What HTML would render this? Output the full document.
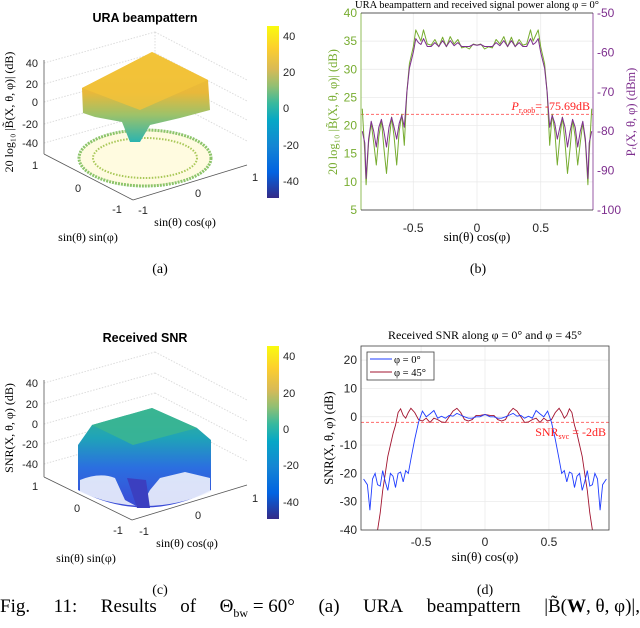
<!DOCTYPE html>
<html><head><meta charset="utf-8"><style>
html,body{margin:0;padding:0;background:#fff;}
body{width:640px;height:623px;overflow:hidden;position:relative;font-family:"Liberation Sans",sans-serif;}
svg text{font-family:"Liberation Sans",sans-serif;}
.serif{font-family:"Liberation Serif",serif;}
#caption{position:absolute;left:0;top:596px;width:640px;font-family:"Liberation Serif",serif;font-size:19px;display:flex;justify-content:space-between;white-space:nowrap;}
#caption span{display:inline-block;}
</style></head><body>
<svg id="fig" width="640" height="623" xmlns="http://www.w3.org/2000/svg">
<defs>
<linearGradient id="parula" x1="0" y1="1" x2="0" y2="0">
<stop offset="0" stop-color="#352a87"/><stop offset="0.15" stop-color="#0363e1"/><stop offset="0.3" stop-color="#1485d4"/><stop offset="0.45" stop-color="#06a7c6"/><stop offset="0.55" stop-color="#38b99e"/><stop offset="0.65" stop-color="#92bf73"/><stop offset="0.75" stop-color="#d9ba56"/><stop offset="0.87" stop-color="#fcce2e"/><stop offset="1" stop-color="#f9fb0e"/>
</linearGradient>
<linearGradient id="surfA" x1="0" y1="0" x2="0" y2="1">
<stop offset="0" stop-color="#f3c632"/><stop offset="0.45" stop-color="#e9b83a"/><stop offset="0.7" stop-color="#9cc26a"/><stop offset="1" stop-color="#2bb4b0"/>
</linearGradient>
<linearGradient id="surfC" x1="0" y1="0" x2="0" y2="1">
<stop offset="0" stop-color="#39b58f"/><stop offset="0.3" stop-color="#1fa3b8"/><stop offset="0.6" stop-color="#2b6fe0"/><stop offset="1" stop-color="#3b49d6"/>
</linearGradient>
<clipPath id="clipB"><rect x="361" y="13" width="232" height="197"/></clipPath>
<clipPath id="clipD"><rect x="361" y="346" width="248" height="184"/></clipPath>
</defs>

<!-- Panel A -->
<g>
<text x="145" y="22" text-anchor="middle" font-size="12.5" font-weight="bold">URA beampattern</text>
<g stroke="#dcdcdc" stroke-dasharray="1.5,1.5" fill="none">
<line x1="44" y1="63" x2="155" y2="32"/><line x1="44" y1="84" x2="155" y2="53"/><line x1="44" y1="102" x2="155" y2="72"/><line x1="44" y1="124" x2="155" y2="93"/><line x1="44" y1="143" x2="155" y2="112"/>
<line x1="155" y1="32" x2="247" y2="80"/><line x1="155" y1="53" x2="247" y2="101"/><line x1="155" y1="72" x2="247" y2="120"/><line x1="155" y1="93" x2="247" y2="141"/><line x1="155" y1="32" x2="155" y2="120"/>
</g>
<g stroke="#555" stroke-width="0.8" fill="none">
<line x1="44" y1="60" x2="44" y2="154"/><line x1="44" y1="154" x2="133" y2="200"/><line x1="133" y1="200" x2="247" y2="165"/>
</g>
<g font-size="11" fill="#262626" text-anchor="end">
<text x="38" y="67">40</text><text x="38" y="88">20</text><text x="38" y="106">0</text><text x="38" y="128">-20</text><text x="38" y="147">-40</text>
</g>
<g font-size="11" fill="#262626" text-anchor="middle">
<text x="35" y="169">1</text><text x="78" y="192">0</text><text x="117" y="213">-1</text><text x="143" y="214">-1</text><text x="198" y="197">0</text><text x="255" y="181">1</text>
</g>
<text class="serif" x="185" y="226" text-anchor="middle" font-size="12">sin(θ) cos(φ)</text>
<text class="serif" x="88" y="241" text-anchor="middle" font-size="12">sin(θ) sin(φ)</text>
<text class="serif" transform="translate(13,112) rotate(-90)" text-anchor="middle" font-size="12">20 log₁₀ |B̃(X, θ, φ)| (dB)</text>
<ellipse cx="145" cy="158" rx="66" ry="28" fill="#fffbe0" stroke="#8cc46a" stroke-width="3" stroke-dasharray="2,1"/>
<ellipse cx="145" cy="158" rx="52" ry="20" fill="none" stroke="#a9c858" stroke-width="2" stroke-dasharray="1.5,1.5"/>
<path d="M82,88 L152,52 L208,80 L210,110 L180,118 L150,125 L140,142 L130,142 L122,122 L95,117 L83,113 Z" fill="url(#surfA)"/>
<path d="M82,88 L152,52 L208,80 L140,110 Z" fill="#f2c33a" opacity="0.8"/>
<rect x="267" y="26" width="12" height="172" fill="url(#parula)"/>
<g font-size="11" fill="#262626">
<text x="283" y="40">40</text><text x="283" y="76">20</text><text x="283" y="112">0</text><text x="283" y="149">-20</text><text x="283" y="185">-40</text>
</g>
<text class="serif" x="160" y="273" text-anchor="middle" font-size="14">(a)</text>
</g>

<!-- Panel C -->
<g>
<text x="145" y="342" text-anchor="middle" font-size="12.5" font-weight="bold">Received SNR</text>
<g stroke="#dcdcdc" stroke-dasharray="1.5,1.5" fill="none">
<line x1="44" y1="383" x2="155" y2="352"/><line x1="44" y1="404" x2="155" y2="373"/><line x1="44" y1="424" x2="155" y2="393"/><line x1="44" y1="444" x2="155" y2="413"/><line x1="44" y1="464" x2="155" y2="433"/>
<line x1="155" y1="352" x2="247" y2="400"/><line x1="155" y1="373" x2="247" y2="421"/><line x1="155" y1="393" x2="247" y2="441"/><line x1="155" y1="413" x2="247" y2="461"/>
</g>
<g stroke="#555" stroke-width="0.8" fill="none">
<line x1="44" y1="380" x2="44" y2="477"/><line x1="44" y1="477" x2="132" y2="520"/><line x1="132" y1="520" x2="247" y2="485"/>
</g>
<g font-size="11" fill="#262626" text-anchor="end">
<text x="38" y="387">40</text><text x="38" y="408">20</text><text x="38" y="428">0</text><text x="38" y="448">-20</text><text x="38" y="468">-40</text>
</g>
<g font-size="11" fill="#262626" text-anchor="middle">
<text x="35" y="490">1</text><text x="77" y="512">0</text><text x="118" y="534">-1</text><text x="144" y="535">-1</text><text x="198" y="519">0</text><text x="255" y="502">1</text>
</g>
<text class="serif" x="187" y="547" text-anchor="middle" font-size="12">sin(θ) cos(φ)</text>
<text class="serif" x="86" y="562" text-anchor="middle" font-size="12">sin(θ) sin(φ)</text>
<text class="serif" transform="translate(13,428) rotate(-90)" text-anchor="middle" font-size="12">SNR(X, θ, φ) (dB)</text>
<path d="M78,445 L92,425 L152,408 L197,428 L211,440 L211,490 Q145,525 78,490 Z" fill="url(#surfC)"/>
<path d="M92,425 L152,408 L197,428 L133,445 Z" fill="#3ab592" opacity="0.9"/>
<path d="M80,480 Q100,472 115,478 L125,500 L140,508 L150,490 L160,478 L185,472 L210,478 L210,492 Q145,520 80,492 Z" fill="#eef2fc" opacity="0.9"/>
<path d="M127,478 L137,508 L150,508 L146,480 Z" fill="#3b3fc0"/>
<rect x="267" y="346" width="12" height="173" fill="url(#parula)"/>
<g font-size="11" fill="#262626">
<text x="283" y="360">40</text><text x="283" y="397">20</text><text x="283" y="433">0</text><text x="283" y="469">-20</text><text x="283" y="506">-40</text>
</g>
<text class="serif" x="160" y="594" text-anchor="middle" font-size="14">(c)</text>
</g>

<g id="panelB"></g>
<g id="panelD"></g>
</svg>
<div id="caption"><span>Fig.</span><span>11:</span><span>Results</span><span>of</span><span>Θ<sub style="font-size:12px">bw</sub> = 60°</span><span>(a)</span><span>URA</span><span>beampattern</span><span>|B̃(<b>W</b>, θ, φ)|,</span></div>

<script>
// ---- Panel B data ----
const bX = [-0.9,-0.88,-0.87,-0.85,-0.83,-0.81,-0.79,-0.77,-0.75,-0.73,-0.71,-0.69,-0.67,-0.65,-0.63,-0.61,-0.59,-0.57,-0.55,-0.53,-0.5,-0.48,-0.46,-0.44,-0.42,-0.39,-0.36,-0.33,-0.3,-0.27,-0.24,-0.21,-0.18,-0.15,-0.12,-0.09,-0.06,-0.03,0,
0.03,0.06,0.09,0.12,0.15,0.18,0.21,0.24,0.27,0.3,0.33,0.36,0.39,0.42,0.44,0.46,0.48,0.5,0.53,0.55,0.57,0.59,0.61,0.63,0.65,0.67,0.69,0.71,0.73,0.75,0.77,0.79,0.81,0.83,0.85,0.87,0.88,0.9];
const bBeamDb = [23,15,9.5,17,20.5,17,13,18,21,16,11.5,17,21.5,18,13,19,22,16.5,26,31,34,37,36,35,37,34.5,34.3,35.3,34,35.7,34,35.8,34.5,35.3,33.8,34,33.6,34.5,34.3,
34.5,33.6,34,33.8,35.3,34.5,35.8,34,35.7,34,35.3,34.3,34.5,37,35,36,37,34,31,26,16.5,22,19,13,18,21.5,17,11.5,16,21,18,13,17,20.5,17,9.5,15,23];
const bPowerDbm = [-80,-83,-92,-82,-77.5,-80,-84,-79,-77,-80,-84,-79,-76.5,-79,-82,-78,-76,-79,-70,-64,-60,-56.5,-57.5,-58,-56.5,-58.5,-58.5,-57.5,-58.5,-57,-58.5,-57,-58.3,-57.5,-58.5,-58.5,-58.5,-58,-58.2,
-58,-58.5,-58.5,-58.5,-57.5,-58.3,-57,-58.5,-57,-58.5,-57.5,-58.5,-58.5,-56.5,-58,-57.5,-56.5,-60,-64,-70,-79,-76,-78,-82,-79,-76.5,-79,-84,-80,-77,-79,-84,-80,-77.5,-82,-92,-83,-80];
const bLeftTicks = [5,10,15,20,25,30,35,40];
const bRightTicks = [-100,-90,-80,-70,-60,-50];
const bXTicks = [-0.5,0,0.5];
const bThresholdDb = 22;

// ---- Panel D data ----
const dX = [-0.95,-0.92,-0.9,-0.88,-0.86,-0.84,-0.82,-0.8,-0.78,-0.76,-0.74,-0.72,-0.7,-0.68,-0.66,-0.64,-0.62,-0.6,-0.58,-0.55,-0.52,-0.49,-0.46,-0.43,-0.4,-0.37,-0.34,-0.31,-0.28,-0.25,-0.22,-0.19,-0.16,-0.13,-0.1,-0.07,-0.04,0,
0.04,0.07,0.1,0.13,0.16,0.19,0.22,0.25,0.28,0.31,0.34,0.37,0.4,0.43,0.46,0.49,0.52,0.55,0.58,0.6,0.62,0.64,0.66,0.68,0.7,0.72,0.74,0.76,0.78,0.8,0.82,0.84,0.86,0.88,0.9,0.92,0.95];
const dSnrPhi0 = [-22,-24,-33,-22,-20,-24,-24.5,-19,-23,-26,-20,-21,-25,-20,-19.5,-23,-19,-20,-15,-8,-2,2,0,1,2.2,-0.5,0.2,-0.5,0.5,0.2,1.2,0.6,0,-0.5,-0.5,0,0,0.8,
0,0,-0.5,-0.5,0,0.6,1.2,0.2,0.5,-0.5,0.2,-0.5,2.2,1,0,2,-2,-8,-15,-20,-19,-23,-19.5,-20,-25,-21,-20,-26,-23,-19,-24.5,-24,-20,-22,-33,-24,-22];
const dSnrPhi45 = [-60,-55,-50,-44,-40.5,-40,-34,-26,-20,-14,-10,-6,-3,1.5,2.8,0.5,-0.5,1.5,3,1.5,-1,-1.5,-0.5,-2,-0.5,-1,-1.8,-2,0,2,3,1.5,-1,-1.5,-1,0.5,0.5,0.8,
0.5,0.5,-1,-1.5,-1,1.5,3,2,0,-2,-1.8,-1,-0.5,-2,-0.5,-1.5,-1,1.5,3,1.5,-0.5,0.5,2.8,1.5,-3,-6,-10,-14,-20,-26,-34,-40,-40.5,-44,-50,-55,-60];
const dYTicks = [-40,-30,-20,-10,0,10,20];
const dXTicks = [-0.5,0,0.5];
const dThreshold = -2;

const NS = "http://www.w3.org/2000/svg";
function mk(parent, tag, attrs, text){
  const e = document.createElementNS(NS, tag);
  for (const k in attrs) e.setAttribute(k, attrs[k]);
  if (text !== undefined) e.textContent = text;
  parent.appendChild(e);
  return e;
}
function lin(d0,d1,r0,r1){ return v => r0 + (v-d0)/(d1-d0)*(r1-r0); }
function pathOf(xs, ys, sx, sy){ return xs.map((x,i)=>(i?'L':'M')+sx(x).toFixed(1)+','+sy(ys[i]).toFixed(1)).join(''); }

// ---- draw panel B ----
(function(){
  const g = document.getElementById('panelB');
  const L=361,R=593,T=13,B=210;
  const sx = lin(-0.91,0.91,L,R), sy = lin(5,40,B,T), sy2 = lin(-100,-50,B,T);
  const grid = mk(g,'g',{stroke:'#e8e8e8','stroke-width':0.7});
  
  
  bLeftTicks.forEach(v=>mk(grid,'line',{x1:L,x2:R,y1:sy(v),y2:sy(v)}));
  bXTicks.forEach(v=>mk(grid,'line',{x1:sx(v),x2:sx(v),y1:T,y2:B}));
  const thr = mk(g,'line',{x1:L,x2:R,y1:sy(bThresholdDb),y2:sy(bThresholdDb),stroke:'#ff6b6b','stroke-width':1,'stroke-dasharray':'3,2'});
  
  
  const clip = mk(g,'g',{'clip-path':'url(#clipB)'});
  const gl = mk(clip,'path',{d:pathOf(bX,bBeamDb,sx,sy),fill:'none',stroke:'#77ac30','stroke-width':1,'stroke-linejoin':'round'});
  
  
  const pl = mk(clip,'path',{d:pathOf(bX,bPowerDbm,sx,sy2),fill:'none',stroke:'#7e2f8e','stroke-width':1,'stroke-linejoin':'round'});
  
  
  mk(g,'line',{x1:L,x2:L,y1:T,y2:B,stroke:'#77ac30','stroke-width':0.8});
  mk(g,'line',{x1:R,x2:R,y1:T,y2:B,stroke:'#7e2f8e','stroke-width':0.8});
  mk(g,'line',{x1:L,x2:R,y1:B,y2:B,stroke:'#262626','stroke-width':0.8});
  mk(g,'line',{x1:L,x2:R,y1:T,y2:T,stroke:'#262626','stroke-width':0.8});
  bLeftTicks.forEach(v=>{const t=mk(g,'text',{x:L-4,y:sy(v)+4,'text-anchor':'end','font-size':12,fill:'#77ac30'},String(v));
    
    });
  bRightTicks.forEach(v=>{const t=mk(g,'text',{x:R+4,y:sy2(v)+4,'font-size':12,fill:'#7e2f8e'},String(v));
    
    });
  bXTicks.forEach(v=>{const t=mk(g,'text',{x:sx(v),y:B+22,'text-anchor':'middle','font-size':12,fill:'#262626'},String(v));
    
    });
  const ti = mk(g,'text',{x:477,y:8,'text-anchor':'middle','font-size':10.5,class:'serif'},'URA beampattern and received signal power along φ = 0°');
  
  
  const xl = mk(g,'text',{x:477,y:241,'text-anchor':'middle','font-size':13,class:'serif'},'sin(θ) cos(φ)');
  
  
  const yl = mk(g,'text',{transform:'translate(337,112) rotate(-90)','text-anchor':'middle','font-size':12.5,class:'serif',fill:'#77ac30'},'20 log₁₀ |B̃(X, θ, φ)| (dB)');
  
  
  const yr = mk(g,'text',{transform:'translate(635,112) rotate(-90)','text-anchor':'middle','font-size':12.5,class:'serif',fill:'#7e2f8e'},'Pᵣ(X, θ, φ) (dBm)');
  
  
  const lab = mk(g,'text',{x:590,y:110,'text-anchor':'end','font-size':12,class:'serif',fill:'#ff2020'});
  
  
  mk(lab,'tspan',{'font-style':'italic'},'P');
  mk(lab,'tspan',{'font-size':8,dy:3},'r,oob');
  mk(lab,'tspan',{dy:-3},'= -75.69dB');
  const cap = mk(g,'text',{x:478,y:273,'text-anchor':'middle','font-size':14,class:'serif'},'(b)');
  
  
})();

// ---- draw panel D ----
(function(){
  const g = document.getElementById('panelD');
  const L=361,R=609,T=346,B=530;
  const sx = lin(-0.97,0.97,L,R), sy = lin(-40,25,B,T);
  const grid = mk(g,'g',{stroke:'#e8e8e8','stroke-width':0.7});
  
  
  dYTicks.forEach(v=>mk(grid,'line',{x1:L,x2:R,y1:sy(v),y2:sy(v)}));
  dXTicks.forEach(v=>mk(grid,'line',{x1:sx(v),x2:sx(v),y1:T,y2:B}));
  const thr = mk(g,'line',{x1:L,x2:R,y1:sy(dThreshold),y2:sy(dThreshold),stroke:'#ff6b6b','stroke-width':1,'stroke-dasharray':'3,2'});
  
  
  const clip = mk(g,'g',{'clip-path':'url(#clipD)'});
  const l1 = mk(clip,'path',{d:pathOf(dX,dSnrPhi45,sx,sy),fill:'none',stroke:'#a2142f','stroke-width':0.9});
  
  
  const l0 = mk(clip,'path',{d:pathOf(dX,dSnrPhi0,sx,sy),fill:'none',stroke:'#1f3cff','stroke-width':0.9});
  
  
  mk(g,'rect',{x:L,y:T,width:R-L,height:B-T,fill:'none',stroke:'#404040','stroke-width':0.8});
  dYTicks.forEach(v=>{const t=mk(g,'text',{x:L-4,y:sy(v)+4,'text-anchor':'end','font-size':12,fill:'#262626'},String(v));
    
    });
  dXTicks.forEach(v=>{const t=mk(g,'text',{x:sx(v),y:B+16,'text-anchor':'middle','font-size':12,fill:'#262626'},String(v));
    
    });
  const ti = mk(g,'text',{x:485,y:339,'text-anchor':'middle','font-size':12,class:'serif'},'Received SNR along φ = 0° and φ = 45°');
  
  
  const xl = mk(g,'text',{x:485,y:561,'text-anchor':'middle','font-size':13,class:'serif'},'sin(θ) cos(φ)');
  
  
  const yl = mk(g,'text',{transform:'translate(333,438) rotate(-90)','text-anchor':'middle','font-size':12.5,class:'serif'},'SNR(X, θ, φ) (dB)');
  
  
  const lab = mk(g,'text',{x:606,y:436,'text-anchor':'end','font-size':12,class:'serif',fill:'#ff2020'});
  
  
  mk(lab,'tspan',{},'SNR');
  mk(lab,'tspan',{'font-size':8,dy:3},'svc');
  mk(lab,'tspan',{dy:-3},' = -2dB');
  const lg = mk(g,'g',{});
  
  
  mk(lg,'rect',{x:367,y:352,width:67,height:28,fill:'#fff',stroke:'#404040','stroke-width':0.8});
  mk(lg,'line',{x1:370,x2:392,y1:359,y2:359,stroke:'#1f3cff'});
  mk(lg,'line',{x1:370,x2:392,y1:372,y2:372,stroke:'#a2142f'});
  const e0 = mk(lg,'text',{x:394,y:363,'font-size':10.5,class:'serif'},'φ = 0°');
  
  
  const e1 = mk(lg,'text',{x:394,y:376,'font-size':10.5,class:'serif'},'φ = 45°');
  
  
  const cap = mk(g,'text',{x:485,y:594,'text-anchor':'middle','font-size':14,class:'serif'},'(d)');
  
  
})();
</script>
</body></html>
